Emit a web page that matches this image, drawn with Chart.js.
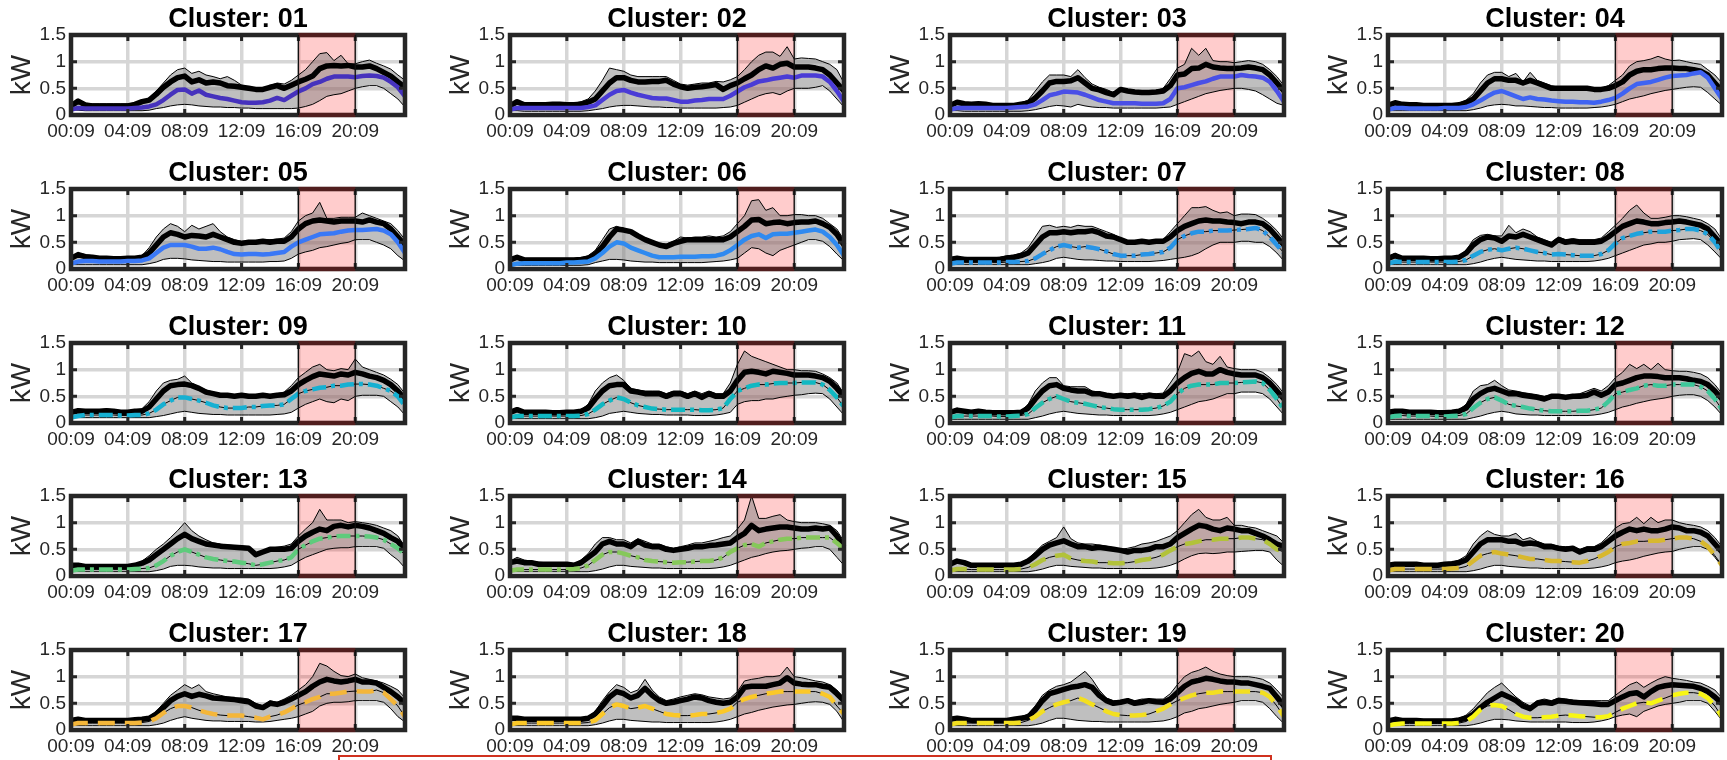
<!DOCTYPE html>
<html>
<head>
<meta charset="utf-8">
<title>Cluster load profiles</title>
<script src="https://cdn.jsdelivr.net/npm/chart.js@4.4.1/dist/chart.umd.min.js"></script>
<style>
  html, body { margin: 0; padding: 0; background: #fff; }
  body { width: 1727px; height: 760px; position: relative; overflow: hidden; }
  canvas.panel { position: absolute; }
  #noteBox { position: absolute; left: 338px; top: 755px; width: 930px; height: 30px; border: 2px solid #d0311f; }
</style>
</head>
<body>
<div id="noteBox"></div>
<script>
// half-hourly time stamps on the x axis
const timeLabels = ['00:09','00:39','01:09','01:39','02:09','02:39','03:09','03:39',
  '04:09','04:39','05:09','05:39','06:09','06:39','07:09','07:39',
  '08:09','08:39','09:09','09:39','10:09','10:39','11:09','11:39',
  '12:09','12:39','13:09','13:39','14:09','14:39','15:09','15:39',
  '16:09','16:39','17:09','17:39','18:09','18:39','19:09','19:39',
  '20:09','20:39','21:09','21:39','22:09','22:39','23:09','23:39'];
const shownTicks = ['00:09','04:09','08:09','12:09','16:09','20:09'];
const yTicks = [0, 0.5, 1, 1.5];
const peakStart = '16:09';
const peakEnd = '20:09';

const clusterNames = ['01','02','03','04','05','06','07','08','09','10',
  '11','12','13','14','15','16','17','18','19','20'];
const clusterColors = ['#4632bd','#4a3bd6','#4a4fe6','#3f63f2','#3a78f6','#2f8af0','#2894e6','#1fa3dc','#16b0d2','#10b8c2',
  '#24c0ae','#3ec79a','#5ecb7c','#86c85a','#b2c23a','#d8b82e','#f4b63a','#fbc828','#f3df20','#f8f614'];

// upper edge of the grey band (kW)
const upperBand = [
  [0.22,0.27,0.22,0.21,0.21,0.21,0.21,0.21, 0.21,0.22,0.26,0.32,0.45,0.6,0.75,0.85, 0.88,0.78,0.82,0.75,0.72,0.68,0.72,0.65, 0.56,0.52,0.5,0.5,0.55,0.6,0.58,0.65, 0.75,0.85,1.0,1.15,1.17,1.02,1.12,0.96, 0.96,1.0,1.03,0.97,0.92,0.86,0.75,0.65],
  [0.2,0.27,0.22,0.22,0.22,0.22,0.22,0.22, 0.22,0.22,0.25,0.3,0.45,0.65,0.88,0.85, 0.82,0.75,0.72,0.72,0.72,0.72,0.72,0.65, 0.58,0.56,0.58,0.6,0.6,0.63,0.62,0.66, 0.72,0.85,1.0,1.12,1.18,1.18,1.1,1.28, 1.05,1.07,1.06,1.05,1.0,0.95,0.85,0.6],
  [0.2,0.26,0.24,0.22,0.23,0.22,0.2,0.2, 0.2,0.2,0.23,0.28,0.45,0.62,0.75,0.75, 0.75,0.72,0.85,0.7,0.58,0.52,0.48,0.42, 0.5,0.47,0.45,0.45,0.45,0.46,0.5,0.68, 0.88,0.95,1.25,1.12,1.25,1.02,1.0,1.0, 0.98,1.0,1.02,1.0,0.95,0.85,0.72,0.55],
  [0.2,0.25,0.22,0.2,0.2,0.2,0.2,0.2, 0.2,0.2,0.22,0.28,0.4,0.6,0.75,0.8, 0.8,0.72,0.78,0.62,0.8,0.65,0.6,0.55, 0.52,0.52,0.53,0.52,0.52,0.5,0.5,0.55, 0.65,0.75,0.92,1.0,1.02,1.05,1.1,1.05, 1.02,1.03,1.0,0.97,0.95,0.85,0.75,0.6],
  [0.22,0.3,0.27,0.25,0.22,0.22,0.21,0.21, 0.22,0.22,0.25,0.4,0.6,0.75,0.85,0.8, 0.7,0.82,0.75,0.8,0.85,0.7,0.6,0.55, 0.52,0.53,0.53,0.55,0.55,0.56,0.58,0.7, 0.9,1.0,1.05,1.25,0.95,0.95,0.97,0.97, 0.97,1.05,1.0,0.95,0.9,0.85,0.72,0.55],
  [0.2,0.25,0.2,0.2,0.2,0.2,0.2,0.2, 0.2,0.2,0.21,0.25,0.35,0.55,0.75,0.8, 0.75,0.72,0.65,0.58,0.52,0.48,0.47,0.52, 0.6,0.58,0.6,0.6,0.62,0.6,0.62,0.7, 0.85,1.0,1.28,1.3,1.1,1.15,1.0,1.0, 1.02,1.02,1.0,1.0,0.95,0.85,0.75,0.55],
  [0.22,0.22,0.22,0.21,0.21,0.21,0.21,0.22, 0.25,0.26,0.3,0.4,0.6,0.8,0.82,0.78, 0.8,0.78,0.82,0.8,0.8,0.75,0.7,0.65, 0.58,0.52,0.52,0.55,0.52,0.55,0.55,0.7, 0.85,1.0,1.15,1.15,1.17,1.1,1.05,1.07, 1.0,1.03,1.03,1.02,0.95,0.85,0.72,0.55],
  [0.22,0.3,0.22,0.22,0.22,0.22,0.21,0.21, 0.22,0.22,0.25,0.35,0.55,0.63,0.65,0.62, 0.62,0.82,0.68,0.75,0.7,0.6,0.55,0.5, 0.6,0.55,0.57,0.55,0.55,0.55,0.58,0.7, 0.82,0.95,1.1,1.2,1.05,0.95,0.95,0.97, 1.0,1.0,0.98,0.95,0.92,0.85,0.75,0.55],
  [0.22,0.26,0.25,0.25,0.25,0.26,0.25,0.22, 0.22,0.25,0.27,0.4,0.6,0.75,0.8,0.82, 0.88,0.75,0.68,0.62,0.58,0.55,0.55,0.53, 0.55,0.53,0.53,0.55,0.53,0.55,0.58,0.7, 0.85,0.95,1.05,1.1,1.0,0.98,1.02,1.0, 1.2,1.05,1.0,0.95,0.9,0.82,0.72,0.55],
  [0.22,0.28,0.22,0.22,0.22,0.22,0.21,0.21, 0.22,0.22,0.25,0.35,0.6,0.75,0.85,0.9, 0.8,0.65,0.62,0.6,0.6,0.6,0.55,0.6, 0.6,0.55,0.6,0.55,0.6,0.55,0.55,0.75, 1.1,1.35,1.25,1.2,1.15,1.1,1.05,1.0, 1.0,0.98,0.98,0.97,0.92,0.85,0.75,0.55],
  [0.22,0.28,0.24,0.22,0.24,0.22,0.21,0.21, 0.21,0.21,0.23,0.35,0.6,0.75,0.85,0.85, 0.7,0.68,0.68,0.68,0.6,0.58,0.55,0.53, 0.55,0.55,0.56,0.55,0.56,0.55,0.56,0.75, 0.95,1.3,1.25,1.35,1.15,1.1,1.25,1.05, 1.02,1.0,1.0,1.0,0.95,0.85,0.72,0.55],
  [0.22,0.25,0.25,0.22,0.22,0.22,0.22,0.21, 0.21,0.22,0.25,0.35,0.6,0.7,0.72,0.8, 0.7,0.62,0.6,0.57,0.55,0.53,0.5,0.53, 0.53,0.52,0.53,0.55,0.6,0.65,0.6,0.7, 0.85,0.95,1.1,1.02,1.1,1.0,1.12,1.0, 0.98,0.97,0.97,0.95,0.92,0.85,0.72,0.55],
  [0.22,0.22,0.2,0.2,0.2,0.2,0.2,0.2, 0.2,0.22,0.28,0.38,0.5,0.6,0.72,0.85, 1.0,0.85,0.75,0.68,0.62,0.6,0.58,0.57, 0.56,0.55,0.42,0.48,0.52,0.54,0.56,0.6, 0.75,0.88,1.0,1.25,1.05,1.05,1.05,1.0, 1.02,1.0,0.98,0.95,0.9,0.85,0.75,0.55],
  [0.28,0.35,0.3,0.28,0.26,0.25,0.25,0.25, 0.25,0.23,0.3,0.42,0.6,0.72,0.72,0.68, 0.68,0.62,0.7,0.65,0.6,0.6,0.55,0.52, 0.55,0.58,0.62,0.62,0.65,0.68,0.72,0.75, 0.88,1.05,1.5,1.08,1.08,1.12,1.15,1.05, 1.02,1.0,1.0,1.0,0.98,0.95,0.85,0.65],
  [0.25,0.3,0.27,0.23,0.22,0.22,0.22,0.22, 0.22,0.22,0.25,0.32,0.45,0.58,0.65,0.72, 0.92,0.7,0.62,0.6,0.6,0.58,0.56,0.53, 0.5,0.52,0.55,0.6,0.62,0.65,0.7,0.75, 0.85,1.0,1.15,1.25,1.1,1.05,1.05,1.1, 0.95,0.95,0.92,0.9,0.85,0.8,0.75,0.62],
  [0.22,0.25,0.25,0.25,0.25,0.22,0.22,0.22, 0.25,0.26,0.3,0.38,0.6,0.75,0.85,0.78, 0.75,0.75,0.8,0.68,0.72,0.65,0.6,0.6, 0.55,0.55,0.55,0.5,0.55,0.55,0.62,0.75, 0.9,0.98,1.0,1.1,0.98,1.1,1.0,1.05, 1.05,1.0,0.97,0.95,0.92,0.85,0.72,0.55],
  [0.2,0.22,0.2,0.2,0.2,0.2,0.2,0.2, 0.2,0.21,0.22,0.25,0.35,0.5,0.65,0.75, 0.85,0.78,0.85,0.72,0.68,0.65,0.62,0.6, 0.6,0.58,0.5,0.45,0.55,0.52,0.58,0.65, 0.75,0.85,1.0,1.25,1.2,1.1,1.02,1.0, 1.05,0.98,0.95,0.92,0.88,0.82,0.75,0.6],
  [0.25,0.25,0.22,0.22,0.22,0.22,0.22,0.22, 0.22,0.22,0.22,0.25,0.35,0.55,0.72,0.85, 0.8,0.7,0.75,0.95,0.75,0.62,0.55,0.58, 0.62,0.65,0.68,0.66,0.62,0.6,0.58,0.6, 0.72,0.92,0.95,0.97,1.0,1.0,1.02,1.18, 1.0,0.98,0.95,0.92,0.9,0.85,0.75,0.6],
  [0.22,0.25,0.22,0.2,0.2,0.2,0.2,0.2, 0.2,0.22,0.25,0.3,0.45,0.65,0.75,0.82, 0.85,0.9,1.0,1.1,0.95,0.75,0.6,0.55, 0.55,0.58,0.55,0.58,0.58,0.58,0.58,0.68, 0.85,1.0,1.08,1.12,1.18,1.1,1.05,1.02, 1.0,1.0,1.0,0.98,0.95,0.88,0.75,0.6],
  [0.2,0.22,0.2,0.2,0.2,0.2,0.2,0.2, 0.2,0.2,0.22,0.28,0.4,0.55,0.7,0.8, 0.88,0.75,0.62,0.52,0.45,0.55,0.58,0.55, 0.6,0.58,0.56,0.55,0.55,0.55,0.55,0.55, 0.65,0.75,0.85,0.9,0.8,0.88,0.95,1.0, 0.97,0.95,0.93,0.9,0.88,0.82,0.75,0.6]
];

// lower edge of the grey band (kW)
const lowerBand = [
  [0.1,0.09,0.08,0.08,0.08,0.08,0.08,0.08, 0.08,0.08,0.08,0.09,0.12,0.14,0.17,0.19, 0.2,0.19,0.17,0.16,0.15,0.15,0.14,0.14, 0.13,0.13,0.12,0.12,0.12,0.12,0.12,0.12, 0.13,0.16,0.2,0.27,0.35,0.38,0.4,0.45, 0.5,0.53,0.55,0.55,0.5,0.4,0.3,0.15],
  [0.08,0.08,0.07,0.07,0.07,0.07,0.07,0.07, 0.07,0.07,0.07,0.08,0.1,0.12,0.15,0.17, 0.18,0.18,0.17,0.16,0.15,0.15,0.14,0.14, 0.13,0.13,0.13,0.13,0.13,0.13,0.14,0.15, 0.18,0.24,0.3,0.36,0.4,0.42,0.38,0.45, 0.5,0.5,0.5,0.52,0.55,0.45,0.3,0.15],
  [0.08,0.08,0.07,0.07,0.07,0.07,0.07,0.07, 0.07,0.07,0.07,0.08,0.1,0.13,0.16,0.18, 0.17,0.15,0.2,0.17,0.15,0.14,0.14,0.13, 0.13,0.13,0.13,0.13,0.13,0.13,0.14,0.15, 0.2,0.25,0.3,0.35,0.4,0.43,0.46,0.48, 0.5,0.5,0.48,0.45,0.38,0.3,0.22,0.18],
  [0.08,0.08,0.08,0.08,0.08,0.08,0.08,0.08, 0.08,0.08,0.08,0.08,0.1,0.13,0.17,0.19, 0.2,0.19,0.17,0.17,0.16,0.15,0.14,0.14, 0.13,0.13,0.13,0.13,0.13,0.14,0.15,0.17, 0.2,0.25,0.3,0.33,0.36,0.4,0.43,0.46, 0.48,0.5,0.52,0.53,0.52,0.42,0.3,0.18],
  [0.08,0.08,0.08,0.08,0.08,0.08,0.08,0.08, 0.08,0.08,0.08,0.1,0.13,0.18,0.2,0.2, 0.19,0.17,0.16,0.15,0.14,0.14,0.13,0.13, 0.13,0.13,0.13,0.13,0.14,0.14,0.15,0.2, 0.28,0.32,0.35,0.4,0.42,0.45,0.48,0.5, 0.55,0.55,0.55,0.5,0.45,0.38,0.25,0.15],
  [0.07,0.07,0.07,0.07,0.07,0.07,0.07,0.07, 0.07,0.07,0.07,0.08,0.12,0.15,0.18,0.18, 0.17,0.15,0.14,0.13,0.13,0.12,0.12,0.12, 0.12,0.12,0.12,0.12,0.13,0.14,0.15,0.17, 0.2,0.3,0.4,0.38,0.3,0.25,0.35,0.4, 0.45,0.5,0.55,0.55,0.52,0.42,0.28,0.15],
  [0.08,0.08,0.08,0.08,0.08,0.08,0.08,0.08, 0.08,0.08,0.08,0.08,0.1,0.12,0.15,0.2, 0.22,0.2,0.18,0.17,0.17,0.16,0.15,0.15, 0.14,0.14,0.14,0.14,0.14,0.15,0.16,0.18, 0.2,0.22,0.25,0.3,0.38,0.45,0.5,0.5, 0.5,0.52,0.52,0.5,0.5,0.42,0.3,0.15],
  [0.08,0.08,0.08,0.08,0.08,0.08,0.08,0.08, 0.08,0.08,0.08,0.08,0.1,0.13,0.17,0.2, 0.22,0.2,0.18,0.17,0.16,0.15,0.15,0.14, 0.14,0.14,0.14,0.14,0.14,0.15,0.17,0.2, 0.25,0.3,0.35,0.4,0.45,0.47,0.5,0.5, 0.52,0.55,0.56,0.57,0.55,0.45,0.32,0.18],
  [0.1,0.1,0.1,0.1,0.1,0.1,0.1,0.1, 0.1,0.1,0.1,0.1,0.12,0.14,0.17,0.2, 0.22,0.2,0.18,0.17,0.16,0.16,0.15,0.15, 0.15,0.15,0.15,0.15,0.15,0.16,0.17,0.2, 0.28,0.35,0.4,0.45,0.4,0.38,0.45,0.42, 0.5,0.52,0.52,0.52,0.5,0.4,0.3,0.15],
  [0.08,0.08,0.08,0.08,0.08,0.08,0.08,0.08, 0.08,0.08,0.08,0.08,0.1,0.13,0.18,0.2, 0.22,0.2,0.18,0.17,0.16,0.16,0.15,0.15, 0.15,0.15,0.14,0.14,0.14,0.15,0.17,0.2, 0.35,0.4,0.42,0.42,0.45,0.45,0.48,0.5, 0.52,0.53,0.55,0.56,0.55,0.45,0.3,0.15],
  [0.07,0.07,0.07,0.07,0.07,0.07,0.07,0.07, 0.07,0.07,0.07,0.07,0.1,0.13,0.17,0.2, 0.22,0.2,0.18,0.17,0.16,0.15,0.15,0.14, 0.14,0.14,0.14,0.14,0.14,0.15,0.17,0.2, 0.25,0.3,0.35,0.4,0.42,0.45,0.5,0.55, 0.55,0.58,0.58,0.58,0.55,0.45,0.3,0.15],
  [0.07,0.07,0.07,0.07,0.07,0.07,0.07,0.07, 0.07,0.07,0.07,0.07,0.1,0.13,0.17,0.2, 0.22,0.2,0.17,0.16,0.15,0.15,0.14,0.14, 0.14,0.14,0.14,0.14,0.14,0.15,0.17,0.2, 0.25,0.3,0.33,0.37,0.4,0.43,0.45,0.47, 0.5,0.52,0.53,0.53,0.5,0.42,0.3,0.15],
  [0.08,0.08,0.08,0.08,0.08,0.08,0.08,0.08, 0.08,0.08,0.08,0.08,0.1,0.13,0.18,0.2, 0.2,0.19,0.17,0.16,0.15,0.15,0.14,0.14, 0.14,0.14,0.14,0.14,0.14,0.15,0.17,0.2, 0.28,0.35,0.4,0.45,0.5,0.52,0.53,0.53, 0.55,0.55,0.55,0.55,0.52,0.4,0.3,0.15],
  [0.08,0.08,0.08,0.08,0.08,0.08,0.08,0.08, 0.08,0.08,0.08,0.08,0.1,0.13,0.17,0.2, 0.2,0.18,0.17,0.16,0.15,0.15,0.14,0.14, 0.14,0.14,0.14,0.14,0.14,0.15,0.17,0.2, 0.25,0.3,0.35,0.38,0.42,0.45,0.47,0.48, 0.5,0.52,0.53,0.55,0.55,0.5,0.35,0.2],
  [0.08,0.08,0.08,0.08,0.08,0.08,0.08,0.08, 0.08,0.08,0.08,0.08,0.1,0.13,0.17,0.2, 0.2,0.18,0.17,0.16,0.15,0.15,0.14,0.14, 0.14,0.14,0.14,0.14,0.14,0.15,0.17,0.2, 0.25,0.32,0.38,0.42,0.43,0.42,0.43,0.45, 0.45,0.46,0.47,0.48,0.48,0.45,0.3,0.18],
  [0.08,0.08,0.08,0.08,0.08,0.08,0.08,0.08, 0.08,0.08,0.08,0.08,0.1,0.13,0.17,0.2, 0.2,0.18,0.17,0.16,0.15,0.15,0.14,0.14, 0.14,0.14,0.14,0.14,0.14,0.15,0.17,0.2, 0.25,0.28,0.3,0.33,0.37,0.4,0.43,0.45, 0.46,0.5,0.53,0.55,0.55,0.5,0.35,0.18],
  [0.08,0.08,0.08,0.08,0.08,0.08,0.08,0.08, 0.08,0.08,0.08,0.08,0.1,0.13,0.18,0.22, 0.25,0.22,0.2,0.18,0.17,0.17,0.16,0.16, 0.16,0.16,0.15,0.15,0.16,0.18,0.2,0.22, 0.25,0.3,0.35,0.45,0.5,0.52,0.52,0.53, 0.55,0.55,0.55,0.55,0.52,0.4,0.25,0.15],
  [0.08,0.08,0.08,0.08,0.08,0.08,0.08,0.08, 0.08,0.08,0.08,0.08,0.1,0.13,0.17,0.2, 0.2,0.18,0.17,0.16,0.15,0.15,0.14,0.14, 0.14,0.14,0.14,0.14,0.14,0.15,0.17,0.2, 0.25,0.3,0.33,0.37,0.4,0.43,0.45,0.47, 0.48,0.5,0.52,0.53,0.52,0.48,0.35,0.15],
  [0.08,0.08,0.08,0.08,0.08,0.08,0.08,0.08, 0.08,0.08,0.08,0.08,0.1,0.13,0.18,0.22, 0.22,0.2,0.18,0.17,0.16,0.16,0.15,0.15, 0.15,0.15,0.15,0.15,0.15,0.16,0.17,0.2, 0.25,0.32,0.35,0.4,0.42,0.45,0.48,0.5, 0.52,0.55,0.55,0.55,0.52,0.4,0.25,0.12],
  [0.08,0.08,0.08,0.08,0.08,0.08,0.08,0.08, 0.08,0.08,0.08,0.08,0.1,0.13,0.17,0.2, 0.2,0.19,0.17,0.16,0.15,0.15,0.15,0.15, 0.15,0.15,0.14,0.14,0.14,0.15,0.17,0.2, 0.25,0.28,0.3,0.25,0.35,0.4,0.45,0.48, 0.5,0.52,0.55,0.55,0.55,0.5,0.35,0.18]
];

// thick black line: mean load of the cluster (kW)
const meanLoad = [
  [0.17,0.26,0.19,0.17,0.17,0.17,0.17,0.17, 0.17,0.2,0.25,0.28,0.39,0.52,0.62,0.7, 0.73,0.62,0.66,0.6,0.62,0.6,0.55,0.54, 0.52,0.5,0.48,0.48,0.52,0.55,0.5,0.56, 0.62,0.67,0.73,0.87,0.92,0.93,0.92,0.93, 0.9,0.9,0.92,0.87,0.8,0.73,0.62,0.52],
  [0.17,0.25,0.19,0.19,0.19,0.19,0.2,0.2, 0.19,0.19,0.2,0.24,0.3,0.45,0.6,0.7, 0.7,0.65,0.62,0.62,0.63,0.63,0.65,0.58, 0.53,0.5,0.52,0.53,0.55,0.57,0.48,0.55, 0.6,0.68,0.75,0.85,0.92,0.88,0.95,0.97, 0.9,0.9,0.9,0.88,0.85,0.75,0.6,0.45],
  [0.18,0.24,0.21,0.2,0.21,0.2,0.18,0.18, 0.18,0.18,0.2,0.22,0.32,0.45,0.6,0.63, 0.63,0.64,0.7,0.6,0.5,0.47,0.42,0.38, 0.48,0.45,0.43,0.42,0.42,0.43,0.45,0.55, 0.75,0.77,0.87,0.88,0.95,0.9,0.88,0.87, 0.87,0.88,0.9,0.88,0.85,0.75,0.6,0.45],
  [0.18,0.23,0.2,0.19,0.19,0.18,0.18,0.18, 0.18,0.18,0.19,0.23,0.3,0.45,0.6,0.68, 0.68,0.65,0.65,0.6,0.65,0.6,0.55,0.5, 0.5,0.5,0.5,0.5,0.5,0.48,0.48,0.5, 0.55,0.62,0.75,0.82,0.85,0.85,0.87,0.88, 0.88,0.87,0.87,0.85,0.82,0.75,0.6,0.45],
  [0.2,0.27,0.23,0.22,0.2,0.2,0.19,0.19, 0.2,0.2,0.22,0.3,0.45,0.6,0.68,0.65, 0.6,0.63,0.62,0.6,0.65,0.6,0.55,0.5, 0.48,0.5,0.5,0.52,0.5,0.52,0.52,0.6, 0.75,0.85,0.9,0.92,0.9,0.88,0.9,0.9, 0.9,0.88,0.92,0.88,0.85,0.75,0.6,0.45],
  [0.17,0.22,0.17,0.17,0.17,0.17,0.17,0.17, 0.17,0.17,0.18,0.2,0.28,0.42,0.6,0.75, 0.73,0.7,0.62,0.55,0.5,0.45,0.42,0.48, 0.52,0.55,0.55,0.55,0.55,0.55,0.55,0.6, 0.7,0.8,0.92,0.93,0.85,0.87,0.88,0.85, 0.87,0.88,0.88,0.9,0.85,0.78,0.65,0.45],
  [0.18,0.2,0.18,0.18,0.18,0.18,0.18,0.18, 0.2,0.22,0.25,0.3,0.45,0.6,0.68,0.68, 0.7,0.68,0.7,0.7,0.72,0.68,0.62,0.6, 0.55,0.5,0.5,0.52,0.5,0.52,0.52,0.6, 0.72,0.8,0.85,0.9,0.92,0.9,0.9,0.88, 0.87,0.85,0.88,0.88,0.85,0.75,0.6,0.45],
  [0.2,0.25,0.2,0.2,0.2,0.2,0.19,0.19, 0.2,0.2,0.22,0.3,0.45,0.55,0.6,0.58, 0.52,0.62,0.6,0.65,0.6,0.55,0.5,0.45, 0.55,0.5,0.52,0.5,0.5,0.5,0.52,0.6, 0.7,0.8,0.85,0.9,0.88,0.85,0.85,0.87, 0.88,0.9,0.88,0.85,0.82,0.75,0.6,0.45],
  [0.2,0.23,0.22,0.22,0.22,0.23,0.22,0.2, 0.2,0.22,0.22,0.3,0.45,0.6,0.7,0.72, 0.73,0.7,0.65,0.58,0.55,0.52,0.52,0.5, 0.52,0.5,0.5,0.52,0.5,0.52,0.53,0.6, 0.72,0.8,0.87,0.92,0.9,0.88,0.92,0.9, 0.95,0.92,0.88,0.85,0.8,0.72,0.6,0.45],
  [0.2,0.25,0.2,0.2,0.2,0.2,0.19,0.19, 0.2,0.2,0.22,0.28,0.45,0.6,0.7,0.72, 0.72,0.6,0.58,0.55,0.55,0.55,0.5,0.55, 0.55,0.5,0.55,0.48,0.55,0.5,0.5,0.6, 0.8,0.95,0.97,0.95,0.92,0.97,0.95,0.93, 0.9,0.9,0.9,0.88,0.85,0.78,0.65,0.5],
  [0.2,0.24,0.22,0.2,0.22,0.2,0.19,0.19, 0.19,0.19,0.2,0.28,0.45,0.6,0.7,0.72, 0.65,0.62,0.6,0.6,0.55,0.55,0.52,0.5, 0.52,0.5,0.52,0.48,0.52,0.5,0.5,0.6, 0.75,0.85,0.93,0.97,0.92,0.92,1.0,0.95, 0.92,0.9,0.9,0.9,0.85,0.75,0.6,0.45],
  [0.2,0.22,0.22,0.2,0.2,0.2,0.2,0.19, 0.19,0.2,0.22,0.28,0.45,0.55,0.62,0.65, 0.6,0.55,0.55,0.52,0.5,0.48,0.45,0.5, 0.5,0.48,0.5,0.5,0.52,0.58,0.52,0.58, 0.72,0.75,0.8,0.85,0.88,0.88,0.87,0.85, 0.85,0.85,0.83,0.8,0.78,0.72,0.6,0.45],
  [0.2,0.2,0.18,0.18,0.18,0.18,0.18,0.18, 0.18,0.2,0.24,0.3,0.4,0.5,0.6,0.7, 0.78,0.7,0.65,0.6,0.58,0.56,0.55,0.54, 0.53,0.52,0.4,0.45,0.5,0.5,0.5,0.52, 0.65,0.75,0.82,0.88,0.85,0.93,0.95,0.92, 0.95,0.93,0.9,0.85,0.8,0.72,0.65,0.5],
  [0.25,0.28,0.25,0.25,0.22,0.22,0.22,0.22, 0.22,0.2,0.25,0.35,0.45,0.6,0.65,0.6, 0.6,0.55,0.65,0.58,0.55,0.55,0.5,0.48, 0.5,0.52,0.55,0.55,0.57,0.58,0.6,0.62, 0.72,0.8,0.95,0.85,0.88,0.9,0.92,0.92, 0.9,0.88,0.88,0.9,0.88,0.9,0.75,0.55],
  [0.22,0.28,0.25,0.2,0.2,0.2,0.2,0.2, 0.2,0.2,0.22,0.28,0.38,0.5,0.58,0.62, 0.66,0.6,0.55,0.55,0.52,0.54,0.52,0.5, 0.48,0.45,0.48,0.48,0.5,0.55,0.55,0.6, 0.72,0.8,0.88,0.95,0.93,0.88,0.85,0.9, 0.88,0.85,0.85,0.8,0.75,0.68,0.6,0.55],
  [0.2,0.22,0.22,0.22,0.22,0.2,0.2,0.2, 0.22,0.23,0.25,0.3,0.45,0.6,0.68,0.68, 0.68,0.65,0.65,0.6,0.62,0.6,0.55,0.55, 0.52,0.5,0.52,0.45,0.5,0.5,0.55,0.65, 0.75,0.82,0.88,0.85,0.88,0.85,0.85,0.88, 0.92,0.9,0.85,0.85,0.82,0.75,0.6,0.45],
  [0.18,0.2,0.18,0.18,0.18,0.18,0.18,0.18, 0.18,0.19,0.2,0.22,0.3,0.42,0.55,0.63, 0.68,0.63,0.67,0.64,0.6,0.59,0.58,0.57, 0.55,0.53,0.45,0.42,0.5,0.48,0.52,0.58, 0.65,0.72,0.82,0.9,0.95,0.92,0.9,0.92, 0.95,0.9,0.9,0.88,0.8,0.72,0.62,0.5],
  [0.22,0.22,0.2,0.2,0.2,0.2,0.2,0.2, 0.2,0.2,0.2,0.22,0.3,0.45,0.62,0.72, 0.68,0.6,0.65,0.78,0.65,0.55,0.5,0.52, 0.55,0.58,0.62,0.6,0.55,0.52,0.5,0.52, 0.62,0.8,0.82,0.82,0.82,0.85,0.88,0.98, 0.88,0.86,0.85,0.85,0.82,0.8,0.68,0.55],
  [0.2,0.22,0.2,0.18,0.18,0.18,0.18,0.18, 0.18,0.2,0.22,0.24,0.38,0.55,0.68,0.72, 0.76,0.8,0.82,0.85,0.8,0.65,0.55,0.5, 0.52,0.55,0.5,0.52,0.55,0.53,0.52,0.58, 0.7,0.82,0.9,0.93,0.97,0.95,0.92,0.9, 0.9,0.88,0.88,0.85,0.82,0.78,0.62,0.45],
  [0.17,0.2,0.18,0.18,0.18,0.17,0.17,0.17, 0.17,0.17,0.19,0.22,0.3,0.42,0.52,0.6, 0.68,0.62,0.55,0.45,0.4,0.5,0.52,0.5, 0.55,0.54,0.52,0.51,0.5,0.49,0.48,0.48, 0.55,0.62,0.68,0.7,0.62,0.72,0.8,0.83, 0.85,0.84,0.83,0.82,0.78,0.72,0.62,0.5]
];

// coloured line: cluster centre profile (kW)
const clusterCentre = [
  [0.1,0.13,0.12,0.12,0.12,0.12,0.12,0.12, 0.12,0.13,0.14,0.16,0.2,0.28,0.38,0.47, 0.48,0.4,0.46,0.38,0.35,0.32,0.3,0.27, 0.24,0.23,0.23,0.24,0.27,0.32,0.28,0.36, 0.44,0.5,0.58,0.62,0.68,0.72,0.72,0.72, 0.71,0.73,0.74,0.73,0.7,0.62,0.52,0.35],
  [0.1,0.13,0.13,0.13,0.13,0.13,0.13,0.13, 0.13,0.13,0.13,0.15,0.18,0.28,0.38,0.45, 0.47,0.42,0.38,0.35,0.32,0.31,0.31,0.28, 0.25,0.25,0.27,0.28,0.3,0.3,0.3,0.36, 0.44,0.52,0.57,0.63,0.65,0.68,0.7,0.72, 0.7,0.74,0.74,0.74,0.72,0.62,0.45,0.25],
  [0.1,0.13,0.13,0.13,0.13,0.13,0.13,0.13, 0.13,0.14,0.15,0.16,0.2,0.28,0.37,0.4, 0.44,0.43,0.42,0.38,0.33,0.28,0.25,0.22, 0.22,0.22,0.22,0.21,0.21,0.21,0.22,0.3, 0.5,0.52,0.56,0.6,0.63,0.68,0.72,0.72, 0.72,0.75,0.73,0.72,0.7,0.62,0.45,0.25],
  [0.1,0.13,0.13,0.12,0.12,0.12,0.12,0.12, 0.13,0.13,0.13,0.15,0.2,0.27,0.35,0.42, 0.45,0.4,0.35,0.3,0.33,0.3,0.29,0.27, 0.26,0.25,0.25,0.24,0.24,0.23,0.25,0.28, 0.32,0.4,0.5,0.58,0.6,0.62,0.66,0.7, 0.73,0.74,0.75,0.78,0.8,0.7,0.5,0.3],
  [0.1,0.14,0.15,0.15,0.14,0.14,0.14,0.14, 0.15,0.15,0.16,0.2,0.3,0.4,0.45,0.45, 0.45,0.42,0.38,0.38,0.4,0.37,0.32,0.28, 0.27,0.28,0.28,0.27,0.28,0.3,0.32,0.42, 0.5,0.55,0.6,0.65,0.66,0.67,0.7,0.72, 0.73,0.73,0.74,0.75,0.72,0.65,0.5,0.3],
  [0.07,0.1,0.11,0.11,0.11,0.11,0.11,0.11, 0.12,0.12,0.13,0.14,0.2,0.3,0.42,0.5, 0.48,0.4,0.35,0.3,0.25,0.22,0.22,0.22, 0.23,0.23,0.23,0.24,0.24,0.25,0.28,0.35, 0.45,0.55,0.62,0.65,0.58,0.65,0.66,0.66, 0.68,0.7,0.72,0.74,0.7,0.6,0.45,0.25],
  [0.1,0.12,0.12,0.12,0.12,0.12,0.12,0.12, 0.13,0.13,0.14,0.15,0.2,0.28,0.35,0.42, 0.45,0.42,0.4,0.42,0.4,0.37,0.33,0.28, 0.25,0.25,0.25,0.27,0.28,0.3,0.32,0.4, 0.55,0.62,0.67,0.7,0.7,0.72,0.72,0.72, 0.73,0.74,0.75,0.77,0.72,0.6,0.45,0.3],
  [0.1,0.14,0.13,0.13,0.13,0.13,0.13,0.13, 0.13,0.13,0.14,0.17,0.25,0.32,0.36,0.38, 0.35,0.38,0.4,0.38,0.35,0.32,0.3,0.27, 0.28,0.27,0.26,0.25,0.25,0.25,0.28,0.35, 0.48,0.58,0.62,0.66,0.68,0.7,0.7,0.7, 0.72,0.73,0.75,0.75,0.72,0.65,0.5,0.3],
  [0.1,0.13,0.15,0.15,0.15,0.15,0.15,0.14, 0.14,0.15,0.15,0.18,0.25,0.35,0.42,0.48, 0.48,0.45,0.42,0.38,0.33,0.3,0.28,0.28, 0.28,0.3,0.3,0.32,0.33,0.33,0.35,0.45, 0.55,0.6,0.63,0.66,0.67,0.7,0.7,0.72, 0.73,0.73,0.72,0.7,0.65,0.6,0.5,0.32],
  [0.1,0.13,0.13,0.13,0.13,0.13,0.13,0.13, 0.13,0.13,0.14,0.17,0.25,0.35,0.42,0.48, 0.45,0.38,0.33,0.3,0.27,0.26,0.25,0.25, 0.25,0.25,0.25,0.24,0.24,0.25,0.28,0.45, 0.6,0.65,0.7,0.72,0.72,0.74,0.75,0.75, 0.75,0.76,0.76,0.76,0.72,0.62,0.48,0.3],
  [0.1,0.13,0.13,0.13,0.13,0.13,0.13,0.12, 0.12,0.13,0.14,0.17,0.28,0.38,0.45,0.5, 0.45,0.4,0.38,0.36,0.33,0.3,0.28,0.26, 0.25,0.25,0.25,0.25,0.26,0.28,0.32,0.4, 0.55,0.65,0.7,0.72,0.72,0.72,0.75,0.75, 0.75,0.76,0.77,0.78,0.75,0.62,0.45,0.25],
  [0.1,0.13,0.14,0.13,0.13,0.13,0.13,0.12, 0.12,0.13,0.14,0.17,0.28,0.38,0.45,0.48, 0.42,0.35,0.32,0.3,0.27,0.25,0.23,0.22, 0.22,0.22,0.22,0.23,0.23,0.25,0.28,0.4, 0.55,0.58,0.62,0.65,0.7,0.72,0.7,0.7, 0.72,0.72,0.72,0.72,0.68,0.6,0.45,0.25],
  [0.1,0.12,0.12,0.12,0.12,0.12,0.12,0.12, 0.12,0.13,0.14,0.15,0.2,0.28,0.38,0.45, 0.5,0.45,0.4,0.35,0.32,0.3,0.28,0.27, 0.25,0.23,0.2,0.22,0.25,0.28,0.3,0.35, 0.5,0.58,0.65,0.7,0.72,0.74,0.75,0.75, 0.75,0.75,0.74,0.72,0.68,0.6,0.52,0.4],
  [0.1,0.12,0.12,0.12,0.12,0.12,0.12,0.12, 0.12,0.13,0.15,0.2,0.3,0.4,0.45,0.45, 0.42,0.38,0.35,0.3,0.28,0.27,0.26,0.25, 0.26,0.26,0.27,0.28,0.28,0.3,0.35,0.45, 0.52,0.58,0.6,0.55,0.62,0.65,0.68,0.7, 0.7,0.72,0.72,0.72,0.72,0.72,0.62,0.5],
  [0.1,0.13,0.13,0.12,0.12,0.12,0.12,0.12, 0.12,0.12,0.13,0.16,0.22,0.3,0.35,0.38, 0.4,0.33,0.3,0.28,0.27,0.25,0.25,0.24, 0.24,0.25,0.27,0.3,0.32,0.35,0.4,0.48, 0.55,0.6,0.62,0.65,0.68,0.68,0.7,0.7, 0.7,0.72,0.72,0.7,0.68,0.6,0.5,0.45],
  [0.1,0.13,0.13,0.13,0.13,0.13,0.13,0.13, 0.13,0.14,0.15,0.18,0.28,0.38,0.42,0.45, 0.42,0.4,0.38,0.35,0.32,0.32,0.3,0.28, 0.28,0.27,0.26,0.25,0.28,0.32,0.38,0.45, 0.55,0.6,0.62,0.65,0.65,0.66,0.66,0.68, 0.7,0.72,0.72,0.7,0.65,0.55,0.38,0.2],
  [0.1,0.13,0.13,0.13,0.13,0.13,0.13,0.13, 0.13,0.13,0.14,0.16,0.22,0.32,0.4,0.45, 0.45,0.42,0.37,0.33,0.3,0.28,0.27,0.27, 0.27,0.25,0.23,0.2,0.25,0.28,0.33,0.4, 0.47,0.52,0.58,0.62,0.68,0.68,0.7,0.72, 0.73,0.72,0.72,0.75,0.7,0.58,0.45,0.25],
  [0.1,0.13,0.13,0.13,0.13,0.13,0.13,0.13, 0.13,0.13,0.13,0.14,0.18,0.3,0.42,0.48, 0.45,0.4,0.42,0.45,0.4,0.35,0.3,0.28, 0.27,0.27,0.28,0.3,0.3,0.32,0.35,0.4, 0.52,0.58,0.62,0.65,0.68,0.7,0.72,0.72, 0.72,0.72,0.72,0.72,0.68,0.62,0.45,0.3],
  [0.1,0.13,0.13,0.13,0.13,0.13,0.13,0.13, 0.13,0.13,0.14,0.18,0.25,0.35,0.42,0.48, 0.52,0.55,0.6,0.55,0.48,0.42,0.35,0.3, 0.28,0.27,0.27,0.28,0.3,0.35,0.4,0.48, 0.55,0.6,0.65,0.68,0.7,0.7,0.72,0.72, 0.72,0.72,0.72,0.72,0.7,0.62,0.45,0.25],
  [0.08,0.11,0.12,0.12,0.12,0.12,0.12,0.12, 0.12,0.12,0.13,0.16,0.25,0.38,0.45,0.47, 0.45,0.38,0.3,0.25,0.23,0.23,0.24,0.25, 0.27,0.28,0.27,0.26,0.25,0.24,0.24,0.26, 0.33,0.4,0.45,0.5,0.52,0.5,0.55,0.6, 0.65,0.68,0.7,0.7,0.68,0.6,0.45,0.25]
];

Chart.defaults.font.family = '"Liberation Sans", Arial, Helvetica, sans-serif';
Chart.defaults.color = '#262626';

const axisInk = '#262626';
const gridInk = '#d6d6d6';
const plotLeft = [71, 510, 950, 1388];
const plotTop = [35, 189, 343, 496, 650];

// line style of the coloured profile: solid, dash-dot, dashed
function dashFor(k) {
  if (k < 6) return [];
  if (k < 14) return [14, 5, 4, 5];
  return [17, 10];
}

// peak window, frame, inner ticks and panel title
const panelDecor = {
  id: 'panelDecor',
  beforeDatasetsDraw(chart) {
    const {ctx, chartArea: a, scales: {x}} = chart;
    const x0 = x.getPixelForValue(timeLabels.indexOf(peakStart));
    const x1 = x.getPixelForValue(timeLabels.indexOf(peakEnd));
    ctx.save();
    ctx.fillStyle = 'rgba(255,0,0,0.2)';
    ctx.fillRect(x0, a.top, x1 - x0, a.bottom - a.top);
    ctx.restore();
  },
  afterDatasetsDraw(chart) {
    const {ctx, chartArea: a, scales: {x, y}} = chart;
    const x0 = x.getPixelForValue(timeLabels.indexOf(peakStart));
    const x1 = x.getPixelForValue(timeLabels.indexOf(peakEnd));
    const fw = 4.5;
    ctx.save();
    // axes box
    ctx.strokeStyle = axisInk;
    ctx.lineWidth = fw;
    ctx.strokeRect(a.left, a.top, a.right - a.left, a.bottom - a.top);
    // inner tick marks
    ctx.lineWidth = 3;
    ctx.beginPath();
    shownTicks.forEach(t => {
      const px = x.getPixelForValue(timeLabels.indexOf(t));
      ctx.moveTo(px, a.top); ctx.lineTo(px, a.top + 6);
      ctx.moveTo(px, a.bottom); ctx.lineTo(px, a.bottom - 6);
    });
    yTicks.forEach(v => {
      const py = y.getPixelForValue(v);
      ctx.moveTo(a.left, py); ctx.lineTo(a.left + 6, py);
      ctx.moveTo(a.right, py); ctx.lineTo(a.right - 6, py);
    });
    ctx.stroke();
    // the translucent peak patch also covers the box edge
    ctx.fillStyle = 'rgba(255,0,0,0.2)';
    ctx.fillRect(x0, a.top - fw / 2, x1 - x0, fw);
    ctx.fillRect(x0, a.bottom - fw / 2, x1 - x0, fw);
    // patch edges
    ctx.strokeStyle = '#111';
    ctx.lineWidth = 1.3;
    ctx.beginPath();
    ctx.moveTo(x0, a.top); ctx.lineTo(x0, a.bottom);
    ctx.moveTo(x1, a.top); ctx.lineTo(x1, a.bottom);
    ctx.stroke();
    ctx.restore();
  },
  afterDraw(chart, args, opts) {
    const {ctx, chartArea: a} = chart;
    ctx.save();
    ctx.fillStyle = '#000';
    ctx.font = 'bold 27px "Liberation Sans", Arial, sans-serif';
    ctx.textAlign = 'center';
    ctx.textBaseline = 'alphabetic';
    ctx.fillText(opts.title, (a.left + a.right) / 2, a.top - 8);
    ctx.restore();
  }
};

clusterNames.forEach((name, k) => {
  const r = Math.floor(k / 4), c = k % 4;
  const cv = document.createElement('canvas');
  cv.className = 'panel';
  cv.width = 425;
  cv.height = 150;
  cv.style.left = (plotLeft[c] - 71) + 'px';
  cv.style.top = (plotTop[r] - 35) + 'px';
  document.body.appendChild(cv);

  new Chart(cv, {
    type: 'line',
    data: {
      labels: timeLabels,
      datasets: [
        { data: clusterCentre[k], borderColor: clusterColors[k], borderWidth: 4.5, borderDash: dashFor(k), order: 0 },
        { data: meanLoad[k], borderColor: '#000', borderWidth: 5.5, order: 1 },
        { data: clusterCentre[k], borderColor: '#000', borderWidth: 1, order: 2 },
        { data: upperBand[k], borderColor: '#000', borderWidth: 1, fill: '+1', backgroundColor: 'rgba(128,128,128,0.5)', order: 4 },
        { data: lowerBand[k], borderColor: '#000', borderWidth: 1, order: 3 }
      ]
    },
    options: {
      responsive: false,
      animation: false,
      layout: { padding: { top: 35, right: 20, left: 0, bottom: 0 } },
      elements: {
        point: { radius: 0 },
        line: { tension: 0, borderCapStyle: 'butt', borderJoinStyle: 'round' }
      },
      plugins: {
        legend: { display: false },
        tooltip: { enabled: false },
        panelDecor: { title: 'Cluster: ' + name }
      },
      scales: {
        x: {
          type: 'category',
          border: { display: false },
          grid: {
            lineWidth: 3.5,
            drawTicks: false,
            color: g => (g.index > 0 && shownTicks.includes(timeLabels[g.index])) ? gridInk : 'rgba(0,0,0,0)'
          },
          ticks: {
            autoSkip: false,
            maxRotation: 0,
            padding: 5,
            color: axisInk,
            font: { size: 19 },
            callback: (v, i) => shownTicks.includes(timeLabels[i]) ? timeLabels[i] : ''
          },
          afterFit: s => { s.height = 35; }
        },
        y: {
          min: 0,
          max: 1.5,
          border: { display: false },
          grid: {
            lineWidth: 3.5,
            drawTicks: false,
            color: g => (g.tick.value > 0 && g.tick.value < 1.5) ? gridInk : 'rgba(0,0,0,0)'
          },
          ticks: { stepSize: 0.5, autoSkip: false, padding: 5, color: axisInk, font: { size: 19 }, callback: v => String(v) },
          title: { display: true, text: 'kW', color: axisInk, font: { size: 28 }, padding: { top: 5, bottom: 0 } },
          afterFit: s => { s.width = 71; }
        }
      }
    },
    plugins: [panelDecor]
  });
});
</script>
</body>
</html>
